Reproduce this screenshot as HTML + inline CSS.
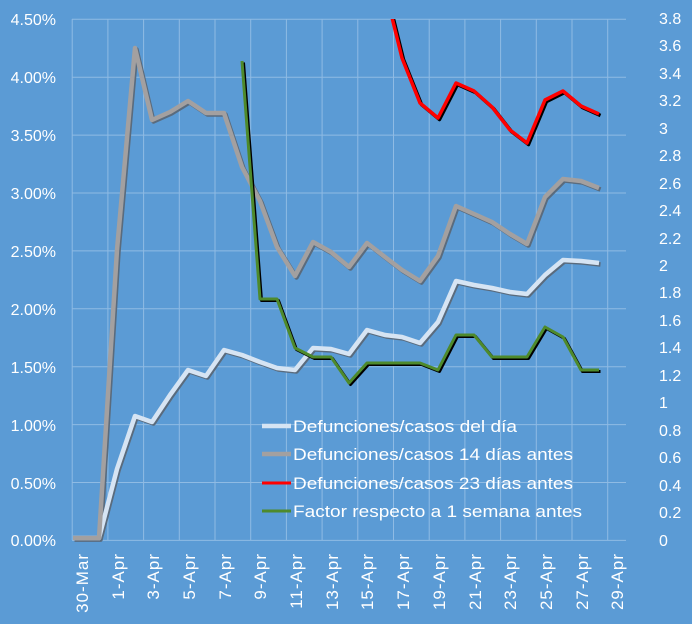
<!DOCTYPE html>
<html><head><meta charset="utf-8"><style>
body{margin:0;background:#5b9bd5}
svg{display:block;font-family:"Liberation Sans",sans-serif}
</style></head><body>
<svg width="692" height="624" viewBox="0 0 692 624" xmlns="http://www.w3.org/2000/svg">
<rect width="692" height="624" fill="#5b9bd5"/>
<defs><clipPath id="c"><rect x="72" y="19" width="560" height="525"/></clipPath></defs>
<g stroke="#8fbbe4" stroke-width="1">
<line x1="72" y1="19.3" x2="626" y2="19.3"/><line x1="72" y1="77.2" x2="626" y2="77.2"/><line x1="72" y1="135.1" x2="626" y2="135.1"/><line x1="72" y1="193" x2="626" y2="193"/><line x1="72" y1="250.9" x2="626" y2="250.9"/><line x1="72" y1="308.8" x2="626" y2="308.8"/><line x1="72" y1="366.7" x2="626" y2="366.7"/><line x1="72" y1="424.6" x2="626" y2="424.6"/><line x1="72" y1="482.5" x2="626" y2="482.5"/>
<line x1="72.2" y1="19" x2="72.2" y2="540"/><line x1="107.9" y1="19" x2="107.9" y2="540"/><line x1="143.6" y1="19" x2="143.6" y2="540"/><line x1="179.3" y1="19" x2="179.3" y2="540"/><line x1="215" y1="19" x2="215" y2="540"/><line x1="250.7" y1="19" x2="250.7" y2="540"/><line x1="286.4" y1="19" x2="286.4" y2="540"/><line x1="322.1" y1="19" x2="322.1" y2="540"/><line x1="357.8" y1="19" x2="357.8" y2="540"/><line x1="393.5" y1="19" x2="393.5" y2="540"/><line x1="429.2" y1="19" x2="429.2" y2="540"/><line x1="464.9" y1="19" x2="464.9" y2="540"/><line x1="500.6" y1="19" x2="500.6" y2="540"/><line x1="536.3" y1="19" x2="536.3" y2="540"/><line x1="572" y1="19" x2="572" y2="540"/><line x1="607.7" y1="19" x2="607.7" y2="540"/>
<line x1="72" y1="540.4" x2="626" y2="540.4"/>
</g>
<g fill="#fff" font-size="16" text-anchor="end">
<text x="56" y="25">4.50%</text><text x="56" y="83">4.00%</text><text x="56" y="141">3.50%</text><text x="56" y="199">3.00%</text><text x="56" y="257">2.50%</text><text x="56" y="315">2.00%</text><text x="56" y="373">1.50%</text><text x="56" y="431">1.00%</text><text x="56" y="489">0.50%</text><text x="56" y="546">0.00%</text>
</g>
<g fill="#fff" font-size="16" text-anchor="start">
<text x="659" y="24">3.8</text><text x="659" y="51">3.6</text><text x="659" y="79">3.4</text><text x="659" y="106">3.2</text><text x="659" y="134">3</text><text x="659" y="161">2.8</text><text x="659" y="189">2.6</text><text x="659" y="216">2.4</text><text x="659" y="244">2.2</text><text x="659" y="271">2</text><text x="659" y="298">1.8</text><text x="659" y="326">1.6</text><text x="659" y="353">1.4</text><text x="659" y="381">1.2</text><text x="659" y="408">1</text><text x="659" y="436">0.8</text><text x="659" y="463">0.6</text><text x="659" y="491">0.4</text><text x="659" y="518">0.2</text><text x="659" y="546">0</text>
</g>
<g fill="#fff" font-size="17" letter-spacing="1" text-anchor="end">
<text transform="translate(88,553) rotate(-90)">30-Mar</text>
<text transform="translate(124,553) rotate(-90)">1-Apr</text>
<text transform="translate(159,553) rotate(-90)">3-Apr</text>
<text transform="translate(195,553) rotate(-90)">5-Apr</text>
<text transform="translate(231,553) rotate(-90)">7-Apr</text>
<text transform="translate(266,553) rotate(-90)">9-Apr</text>
<text transform="translate(302,553) rotate(-90)">11-Apr</text>
<text transform="translate(338,553) rotate(-90)">13-Apr</text>
<text transform="translate(373,553) rotate(-90)">15-Apr</text>
<text transform="translate(409,553) rotate(-90)">17-Apr</text>
<text transform="translate(445,553) rotate(-90)">19-Apr</text>
<text transform="translate(481,553) rotate(-90)">21-Apr</text>
<text transform="translate(516,553) rotate(-90)">23-Apr</text>
<text transform="translate(552,553) rotate(-90)">25-Apr</text>
<text transform="translate(588,553) rotate(-90)">27-Apr</text>
<text transform="translate(623,553) rotate(-90)">29-Apr</text>
</g>
<g fill="none" stroke-linejoin="round" clip-path="url(#c)">
<g transform="translate(1.5,1.5)" stroke="#5a6b7d" stroke-width="4.5">
<polyline points="73,538 99,538 117,469 135,416 152,422 170,395 188,370 206,376 224,350 242,355 260,362 277,368 295,370 313,348 331,349 349,354 367,330 385,335 402,337 420,343 438,322 456,281 474,285 492,288 510,292 527,294 545,275 563,260 581,261 599,263"/>
<polyline points="73,538 99,538 117,250 135,48 152,120 170,112 188,101 206,113 224,113 242,167 260,201 277,247 295,276 313,242 331,252 349,267 367,243 385,257 402,270 420,281 438,256 456,206 474,214 492,222 510,234 527,244 545,197 563,179 581,181 599,188"/>
</g>
<polyline stroke="#d6e4f3" stroke-width="4.5" points="73,538 99,538 117,469 135,416 152,422 170,395 188,370 206,376 224,350 242,355 260,362 277,368 295,370 313,348 331,349 349,354 367,330 385,335 402,337 420,343 438,322 456,281 474,285 492,288 510,292 527,294 545,275 563,260 581,261 599,263"/>
<polyline stroke="#a3a0a0" stroke-width="4.5" points="73,538 99,538 117,250 135,48 152,120 170,112 188,101 206,113 224,113 242,167 260,201 277,247 295,276 313,242 331,252 349,267 367,243 385,257 402,270 420,281 438,256 456,206 474,214 492,222 510,234 527,244 545,197 563,179 581,181 599,188"/>
<polyline transform="translate(1.5,1.5)" stroke="#000" stroke-width="3.5" points="384,-15 402,58 420,103 438,118 456,83 474,91 492,107 510,130 527,143 545,100 563,91 581,106 599,114"/>
<polyline stroke="#ff0000" stroke-width="3.5" points="384,-15 402,58 420,103 438,118 456,83 474,91 492,107 510,130 527,143 545,100 563,91 581,106 599,114"/>
<polyline transform="translate(1.5,1.5)" stroke="#000" stroke-width="3" points="242,61 260,299 277,299 295,348 313,357 331,357 349,383 367,363 385,363 402,363 420,363 438,370 456,335 474,335 492,357 510,357 527,357 545,327 563,337 581,370 599,370"/>
<polyline stroke="#4e8a2c" stroke-width="3" points="242,61 260,299 277,299 295,348 313,357 331,357 349,383 367,363 385,363 402,363 420,363 438,370 456,335 474,335 492,357 510,357 527,357 545,327 563,337 581,370 599,370"/>
</g>
<g stroke-width="4.5">
<line x1="262" y1="426" x2="291" y2="426" stroke="#d6e4f3"/>
<line x1="262" y1="454" x2="291" y2="454" stroke="#a3a0a0"/>
<line x1="262" y1="483" x2="291" y2="483" stroke="#ff0000" stroke-width="3"/>
<line x1="262" y1="511" x2="291" y2="511" stroke="#4e8a2c" stroke-width="3"/>
</g>
<g fill="#fff" font-size="17">
<text x="293" y="432" textLength="224" lengthAdjust="spacingAndGlyphs">Defunciones/casos del día</text>
<text x="293" y="460" textLength="280" lengthAdjust="spacingAndGlyphs">Defunciones/casos 14 días antes</text>
<text x="293" y="489" textLength="280" lengthAdjust="spacingAndGlyphs">Defunciones/casos 23 días antes</text>
<text x="293" y="517" textLength="289" lengthAdjust="spacingAndGlyphs">Factor respecto a 1 semana antes</text>
</g>
</svg>
</body></html>
